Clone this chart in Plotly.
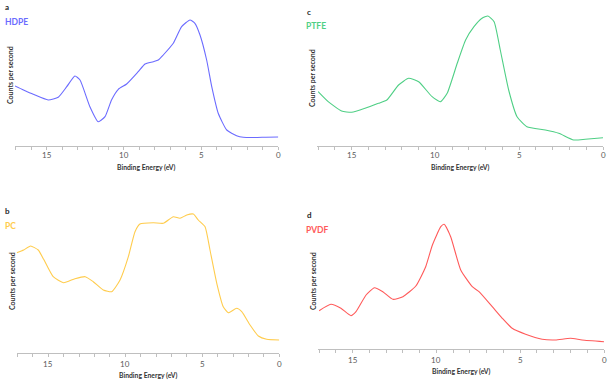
import plotly.graph_objects as go

# Binding energy (eV) and counts per second (arbitrary units)
hdpe_x = [17.05, 16.5, 15.87, 14.9, 14.25, 13.7, 13.17, 12.84, 12.2, 11.66, 11.22, 10.8, 10.36, 9.82,
          9.07, 8.63, 8.1, 7.77, 7.45, 6.8, 6.26, 5.72, 5.4, 5.07, 4.64, 4.31, 3.89, 3.34, 2.7, 2.27, 1.5, 0.8, 0.0]
hdpe_y = [60, 56, 51.7, 46, 48.7, 59.3, 70, 66, 39.3, 24.3, 29.3, 46, 56.7, 62,
          74.3, 82, 84.3, 86, 91, 102.7, 119.3, 126, 122.7, 111, 86, 59.3, 32.7, 16, 10.3, 8.7, 8.5, 8.8, 9]

ptfe_x = [17.0, 16.4, 15.6, 15.0, 14.2, 13.4, 12.9, 12.2, 11.6, 11.0, 10.2, 9.7, 9.3, 8.7, 8.2, 7.7,
          7.22, 6.87, 6.5, 6.13, 5.63, 5.13, 4.54, 3.44, 2.64, 1.75, 1.06, 0.0]
ptfe_y = [54.3, 44.3, 35, 33.7, 37.7, 42.7, 46, 61, 67.7, 64.3, 49.3, 44.3, 52.7, 82.7, 106, 119.3,
          127.7, 130, 124.3, 96, 56, 29.3, 19.3, 16, 12.7, 6, 6.7, 8.3]

pc_x = [17.05, 16.6, 16.15, 15.65, 15.3, 14.68, 14.0, 13.27, 12.6, 12.08, 11.43, 10.88, 10.34, 9.8,
        9.37, 9.05, 8.18, 7.53, 6.88, 6.45, 6.01, 5.58, 5.26, 4.82, 4.5, 4.06, 3.64, 3.31, 2.77, 2.44,
        1.9, 1.36, 0.82, 0.0]
pc_y = [100.3, 103, 107, 103, 93.7, 76.3, 70.3, 74.3, 76.3, 71.3, 63, 61.3, 73, 96.3,
        121.3, 129, 130.3, 129.7, 136.3, 134.7, 138, 139, 133, 126.3, 103, 69.7, 46.3, 40.3, 44.7, 41.3,
        28, 17, 13.7, 13]

pvdf_x = [17.0, 16.3, 15.7, 15.1, 14.8, 14.2, 13.7, 13.2, 12.6, 12.0, 11.23, 10.64, 10.24, 9.74,
          9.54, 9.15, 8.55, 7.86, 7.46, 6.67, 6.07, 5.48, 4.68, 3.69, 2.9, 2.0, 1.31, 0.0]
pvdf_y = [38, 44.4, 40.4, 33, 37, 53.7, 61, 57, 49.4, 52, 62.7, 82, 103.7, 122,
          124.4, 112, 78.7, 62, 57, 42, 30.4, 20.4, 14.4, 9.4, 8.7, 10.4, 8.7, 7]

x_tick_vals = [15, 10, 5, 0]

W, H = 608, 385

panels = [
    dict(letter="a", name="HDPE", x=hdpe_x, y=hdpe_y, color="#6b6bff", xd=(15, 278.3), yd=(146, 10),
         lab=(3, 7), nm=(3, 22), yt=(10, 75), xt=155, xtitle=168),
    dict(letter="c", name="PTFE", x=ptfe_x, y=ptfe_y, color="#4fcf85", xd=(317.3, 603), yd=(146, 10),
         lab=(305, 12), nm=(304, 26), yt=(312, 78), xt=155, xtitle=168),
    dict(letter="b", name="PC", x=pc_x, y=pc_y, color="#ffcc4d", xd=(16.7, 279.3), yd=(353, 205),
         lab=(3, 211), nm=(3, 226), yt=(12, 281), xt=364, xtitle=375),
    dict(letter="d", name="PVDF", x=pvdf_x, y=pvdf_y, color="#ff5a5a", xd=(318.3, 604), yd=(348.7, 205),
         lab=(305, 215), nm=(304, 230), yt=(313, 281), xt=360, xtitle=371),
]

fig = go.Figure()
annotations = []
FONT = "Lato, 'Open Sans', sans-serif"
XMAX = 17.05

for i, p in enumerate(panels, start=1):
    xa = "x" if i == 1 else f"x{i}"
    ya = "y" if i == 1 else f"y{i}"
    fig.add_trace(go.Scatter(x=p["x"], y=p["y"], mode="lines", xaxis=xa, yaxis=ya,
                             line=dict(color=p["color"], width=1.1, shape="spline", smoothing=0.5),
                             showlegend=False, hoverinfo="skip"))
    ax_y, top_y = p["yd"]
    x0, x1 = p["xd"]
    ymax = ax_y - top_y
    xkey = "xaxis" if i == 1 else f"xaxis{i}"
    ykey = "yaxis" if i == 1 else f"yaxis{i}"
    fig.update_layout(**{
        xkey: dict(domain=[x0 / W, x1 / W], range=[XMAX, 0], anchor=ya,
                   tickmode="array", tickvals=x_tick_vals, ticktext=[str(v) for v in x_tick_vals],
                   ticks="outside", ticklen=3, tickcolor="#bfbfbf",
                   minor=dict(dtick=1, tick0=0, ticks="outside", ticklen=3, tickcolor="#bfbfbf"),
                   showline=True, linecolor="#bfbfbf", linewidth=1, showgrid=False, zeroline=False,
                   showticklabels=False),
        ykey: dict(domain=[1 - ax_y / H, 1 - top_y / H], range=[0, ymax], anchor=xa,
                   visible=False, showgrid=False, zeroline=False),
    })
    for v in x_tick_vals:
        px = x0 + (XMAX - v) / XMAX * (x1 - x0)
        annotations.append(dict(x=px / W, y=1 - p["xt"] / H, xref="paper", yref="paper",
                                text=str(v), showarrow=False, xanchor="center", yanchor="middle",
                                font=dict(family=FONT, size=8, color="#595959")))
    annotations.append(dict(x=((x0 + x1) / 2) / W, y=1 - p["xtitle"] / H, xref="paper", yref="paper",
                            text="<b>Binding Energy (eV)</b>", showarrow=False, xanchor="center",
                            yanchor="middle", font=dict(family=FONT, size=6.8, color="#333333")))
    annotations.append(dict(x=p["yt"][0] / W, y=1 - p["yt"][1] / H, xref="paper", yref="paper",
                            text="<b>Counts per second</b>", showarrow=False, textangle=-90,
                            xanchor="center", yanchor="middle",
                            font=dict(family=FONT, size=7, color="#333333")))
    annotations.append(dict(x=p["lab"][0] / W, y=1 - p["lab"][1] / H, xref="paper", yref="paper",
                            text=f"<b>{p['letter']}</b>", showarrow=False, xanchor="left",
                            yanchor="middle", font=dict(family=FONT, size=8, color="#262626")))
    annotations.append(dict(x=p["nm"][0] / W, y=1 - p["nm"][1] / H, xref="paper", yref="paper",
                            text=f"<b>{p['name']}</b>", showarrow=False, xanchor="left",
                            yanchor="middle", font=dict(family=FONT, size=8.5, color=p["color"])))

fig.update_layout(width=W, height=H, margin=dict(l=0, r=0, t=0, b=0),
                  paper_bgcolor="white", plot_bgcolor="white", annotations=annotations)

fig.write_html("out.html", config={"displayModeBar": False, "staticPlot": True})

# remove the browser's default page margin so the figure sits at the window's top-left corner
with open("out.html", "r", encoding="utf-8") as f:
    html = f.read()
html = html.replace("<head>", "<head><style>html,body{margin:0;padding:0;overflow:hidden;}</style>", 1)
with open("out.html", "w", encoding="utf-8") as f:
    f.write(html)
